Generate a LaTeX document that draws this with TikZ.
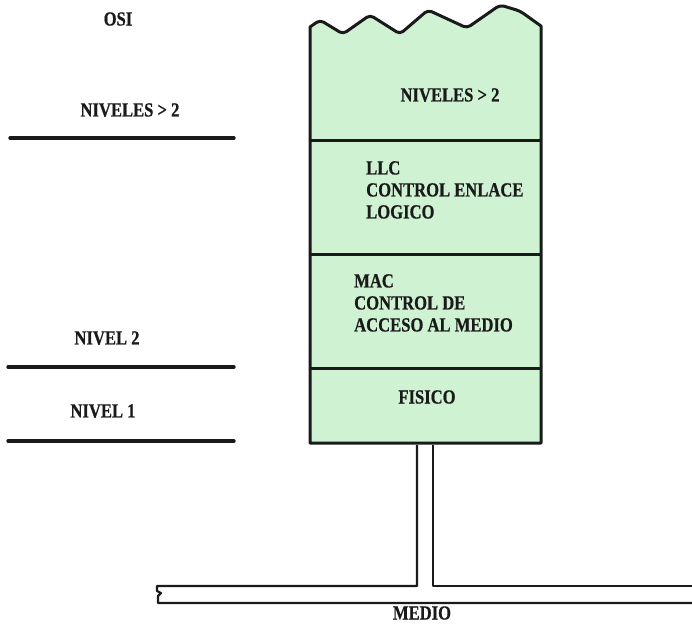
\documentclass[tikz,border=0pt]{standalone}
\usepackage{fontspec}
\setmainfont[FakeStretch=0.83,FakeBold=0.6]{Liberation Serif}
\usepackage{tikz}
\usetikzlibrary{positioning,calc}
\definecolor{cLayer}{HTML}{CFF3D2}
\definecolor{cInk}  {HTML}{1A1A1A}
\tikzset{
  txt/.style   ={font=\fontsize{20}{22}\selectfont\bfseries,text=cInk,inner sep=0pt},
  lyr/.style   ={draw=cInk,line width=3pt,fill=cLayer,line join=round},
  sep/.style   ={draw=cInk,line width=3pt},
  lvl/.style   ={draw=cInk,line width=3.4pt,line cap=round},
  thin/.style  ={draw=cInk,line width=2.2pt,line join=round},
}

\begin{document}
\begin{tikzpicture}[x=1pt, y=-1pt]
\useasboundingbox (0,0) rectangle (692,625);

% ===== layer stack =========================================================
\coordinate (tl) at (310,27);
\coordinate (tr) at (541,26);
\coordinate (bl) at (310,443);
\coordinate (br) at (541,443);
\path[lyr] (bl) -- (tl) [rounded corners=4pt] -- (320,20) -- (343,34) -- (370,15)
  -- (400,34) -- (428,10) -- (467,28) -- (500,5) -- (520,11) [sharp corners] -- (tr)
  -- (br) -- cycle;
\foreach \y/\n in {140/a, 254/b, 368/c}{
  \coordinate (s\n) at (310,\y);
  \draw[sep] (s\n) -- (s\n -| tr);
}

\node[txt] (top) at (450,95) {NIVELES > 2};
\node[txt,align=left,anchor=north west] (llc) at (366,161)
  {LLC\\CONTROL ENLACE\\LOGICO};
\node[txt,align=left,anchor=north west] (mac) at (354,274)
  {MAC\\CONTROL DE\\ACCESO AL MEDIO};
\node[txt] (fis) at (427,397) {FISICO};

% ===== OSI levels on the left ==============================================
\node[txt] (osi) at (118,19) {OSI};
\node[txt] (n3) at (130,110) {NIVELES > 2};
\node[txt] (n2) at (107,338) {NIVEL 2};
\node[txt] (n1) at (103,411) {NIVEL 1};
\coordinate (l3a) at (10,138);  \coordinate (l3b) at (234,138);
\coordinate (l2a) at (8,367);   \coordinate (l2b) at (234,367);
\coordinate (l1a) at (8,441);   \coordinate (l1b) at (234,441);
\foreach \n in {3,2,1}{\draw[lvl] (l\n a) -- (l\n b);}

% ===== stem and medium =====================================================
\coordinate (stL) at (417,445);
\coordinate (stR) at (433,445);
\draw[thin] (700,586) -- (stR |- 0,586) -- (stR);
\draw[thin] (stL) -- (stL |- 0,586) -- (157,586) -- (157,591) -- (161,593)
  -- (158,596) -- (158,603) -- (700,603);
\node[txt] (medio) at (422,613) {MEDIO};
\end{tikzpicture}
\end{document}
